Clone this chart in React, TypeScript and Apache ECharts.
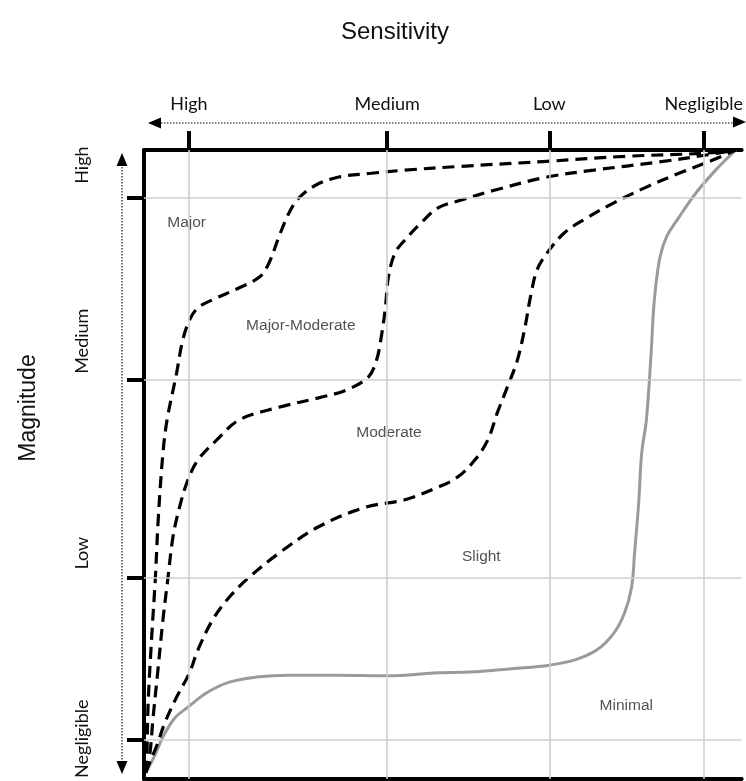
import React, { useEffect, useRef } from "react";
import * as echarts from "echarts";

// Axis ticks (data units: x 0..101 left→right, y 0..100 bottom→top)
const xTickNames = ["High", "Medium", "Low", "Negligible"];
const xTicks = [7.6, 41.1, 68.5, 94.6];
const yTickNames = ["Negligible", "Low", "Medium", "High"];
const yTicks = [6.2, 32.0, 63.4, 92.4];
const yLabelAt = [6.4, 35.9, 69.6, 97.6];

// Zone labels
const zoneNames = ["Major", "Major-Moderate", "Moderate", "Slight", "Minimal"];
const zoneAt: [number, number][] = [
  [7.2, 88.7],
  [26.5, 72.2],
  [41.4, 55.3],
  [57.0, 35.6],
  [81.5, 11.8],
];

// Boundary curves [x, y]
const majorBoundary: [number, number][] = [
  [0.3, 1], [0.5, 4.1], [0.7, 12.1], [1.3, 22.6], [1.9, 31.6], [2.4, 41.2],
  [3.2, 51.8], [3.9, 57.1], [5.5, 64.5], [6.5, 69.6], [7.7, 73.0], [9.1, 74.9],
  [11.6, 76.2], [16.1, 78.1], [19.5, 79.8], [21.1, 82.0], [22.8, 86.2],
  [24.5, 90.0], [26.2, 92.4], [29.0, 94.4], [32.9, 95.7], [38.4, 96.3],
  [44.1, 96.8], [53.5, 97.4], [68.1, 98.2], [81.5, 99.0], [95.0, 99.5], [100, 100],
];
const majorModerateBoundary: [number, number][] = [
  [0.3, 1], [1.0, 4.1], [1.5, 9.4], [2.35, 17.3], [3.2, 25.3], [4.0, 31.6],
  [4.9, 38.5], [6.0, 43.2], [7.4, 47.5], [9.1, 50.7], [12.3, 53.9], [16.1, 57.1],
  [22.8, 59.1], [29.5, 60.6], [34.1, 61.8], [37.9, 63.9], [39.3, 66.6],
  [40.1, 70.3], [40.8, 75.0], [41.3, 79.8], [42.4, 83.6], [44.1, 85.7],
  [46.8, 88.4], [49.7, 90.8], [53.5, 92.0], [59.2, 93.6], [68.1, 95.7],
  [76.0, 96.8], [87.1, 98.1], [95.0, 99.2], [100, 100],
];
const moderateBoundary: [number, number][] = [
  [0.3, 1], [1.0, 2.7], [2.2, 5.4], [3.5, 8.9], [5.5, 13.0], [7.7, 16.9],
  [9.1, 20.5], [11.6, 25.3], [14.4, 28.9], [17.8, 32.1], [22.8, 35.9],
  [29.5, 40.1], [37.4, 43.2], [44.1, 44.4], [49.7, 46.4], [53.0, 48.0],
  [55.9, 50.7], [58.1, 53.9], [59.7, 58.2], [61.4, 62.3], [63.1, 66.6],
  [64.4, 71.9], [65.3, 76.6], [66.4, 80.9], [68.1, 83.6], [71.0, 86.8],
  [74.3, 88.9], [79.4, 91.6], [84.9, 94.1], [90.4, 96.3], [96.1, 98.4], [100, 100],
];
const slightBoundary: [number, number][] = [
  [0.3, 1], [1.85, 3.8], [3.2, 6.7], [5.2, 9.7], [7.4, 11.4], [10.6, 13.7],
  [14.4, 15.4], [19.0, 16.2], [24.5, 16.5], [32.9, 16.5], [41.3, 16.4],
  [49.7, 16.9], [54.7, 17.0], [63.1, 17.6], [68.5, 18.1], [72.7, 18.9],
  [76.5, 20.5], [79.4, 23.2], [81.2, 26.4], [82.4, 30.5], [82.9, 35.9],
  [83.6, 43.9], [84.1, 51.8], [84.9, 57.1], [85.7, 67.7], [86.2, 75.7],
  [87.1, 82.5], [88.3, 86.2], [90.4, 89.3], [93.3, 93.2], [96.6, 96.8], [100, 100],
];

const labelFont = "Lato";
const textFont = "Liberation Sans";

function nameAt(values: number[], names: string[], v: number) {
  const i = values.findIndex((t) => Math.abs(t - v) < 1e-6);
  return i >= 0 ? names[i] : "";
}

export default function App() {
  const ref = useRef<HTMLDivElement>(null);
  useEffect(() => {
    if (!ref.current) return;
    const chart = echarts.init(ref.current, undefined, { renderer: "svg" });
    const dashed = (data: [number, number][]) => ({
      type: "line",
      data,
      smooth: 0.35,
      symbol: "none",
      showSymbol: false,
      z: 4,
      lineStyle: { color: "#000", width: 3.2, type: [12, 7], cap: "butt" },
    });
    chart.setOption({
      animation: false,
      grid: { left: 144, top: 150, right: 0, bottom: 2, containLabel: false },
      xAxis: [
        {
          type: "value",
          position: "top",
          min: 0,
          max: 101,
          axisLine: { show: true, onZero: false, lineStyle: { color: "#000", width: 4 } },
          axisTick: {
            show: true,
            customValues: xTicks,
            length: 19,
            lineStyle: { color: "#000", width: 4 },
          },
          axisLabel: {
            show: true,
            customValues: xTicks,
            formatter: (v: number) => nameAt(xTicks, xTickNames, v),
            margin: 38,
            fontFamily: labelFont,
            fontSize: 18,
            color: "#111",
          },
          splitLine: { show: false },
        },
        {
          type: "value",
          position: "bottom",
          min: 0,
          max: 101,
          axisLine: { show: true, onZero: false, lineStyle: { color: "#000", width: 4 } },
          axisTick: { show: false },
          axisLabel: { show: false },
          splitLine: { show: false },
        },
      ],
      yAxis: [
        {
          type: "value",
          position: "left",
          min: 0,
          max: 100,
          axisLine: { show: true, onZero: false, lineStyle: { color: "#000", width: 4 } },
          axisTick: {
            show: true,
            customValues: yTicks,
            length: 17,
            lineStyle: { color: "#000", width: 4 },
          },
          axisLabel: { show: false },
          splitLine: { show: false },
        },
        {
          type: "value",
          position: "left",
          min: 0,
          max: 100,
          axisLine: { show: false, onZero: false },
          axisTick: { show: false },
          axisLabel: {
            show: true,
            customValues: yLabelAt,
            rotate: 90,
            formatter: (v: number) => nameAt(yLabelAt, yTickNames, v),
            margin: 54,
            fontFamily: labelFont,
            fontSize: 18,
            color: "#111",
          },
          splitLine: { show: false },
        },
      ],
      series: [
        {
          type: "line",
          data: [],
          symbol: "none",
          z: 1,
          silent: true,
          markLine: {
            silent: true,
            symbol: ["none", "none"],
            label: { show: false },
            lineStyle: { color: "#cfcfcf", width: 1.6, type: "solid" },
            data: [
              ...xTicks.map((v) => ({ xAxis: v })),
              ...yTicks.map((v) => ({ yAxis: v })),
            ],
          },
        },
        {
          type: "scatter",
          data: zoneAt,
          symbolSize: 1,
          z: 2,
          itemStyle: { color: "rgba(0,0,0,0)" },
          label: {
            show: true,
            position: "inside",
            formatter: (p: any) => zoneNames[p.dataIndex],
            fontFamily: textFont,
            fontSize: 15.5,
            color: "#262626",
            backgroundColor: "#fff",
            padding: [12, 3],
          },
        },
        dashed(majorBoundary),
        dashed(majorModerateBoundary),
        dashed(moderateBoundary),
        {
          type: "line",
          data: slightBoundary,
          smooth: 0.35,
          symbol: "none",
          showSymbol: false,
          z: 3,
          lineStyle: { color: "#9a9a9a", width: 3 },
        },
      ],
      graphic: [
        {
          type: "line",
          shape: { x1: 158, y1: 123, x2: 736, y2: 123 },
          style: { stroke: "#555", lineWidth: 1.6, lineDash: [1.5, 1.5] },
        },
        {
          type: "polygon",
          shape: { points: [[148, 123], [161, 117.5], [161, 128.5]] },
          style: { fill: "#000" },
        },
        {
          type: "polygon",
          shape: { points: [[746, 122], [733, 116.5], [733, 127.5]] },
          style: { fill: "#000" },
        },
        {
          type: "line",
          shape: { x1: 122, y1: 164, x2: 122, y2: 764 },
          style: { stroke: "#555", lineWidth: 1.6, lineDash: [1.5, 1.5] },
        },
        {
          type: "polygon",
          shape: { points: [[122, 153], [116.5, 166], [127.5, 166]] },
          style: { fill: "#000" },
        },
        {
          type: "polygon",
          shape: { points: [[122, 774], [116.5, 761], [127.5, 761]] },
          style: { fill: "#000" },
        },
        {
          type: "text",
          x: 395,
          y: 30,
          style: {
            text: "Sensitivity",
            fill: "#111",
            fontFamily: textFont,
            fontSize: 24,
            align: "center",
            verticalAlign: "middle",
            textAlign: "center",
            textVerticalAlign: "middle",
          },
        },
        {
          type: "text",
          x: 27,
          y: 408,
          rotation: Math.PI / 2,
          style: {
            text: "Magnitude",
            fill: "#111",
            fontFamily: textFont,
            fontSize: 23,
            align: "center",
            verticalAlign: "middle",
            textAlign: "center",
            textVerticalAlign: "middle",
          },
        },
      ],
    });
    return () => chart.dispose();
  }, []);
  return (
    <div
      ref={ref}
      style={{ position: "fixed", left: 0, top: 0, width: 746, height: 781 }}
    />
  );
}
